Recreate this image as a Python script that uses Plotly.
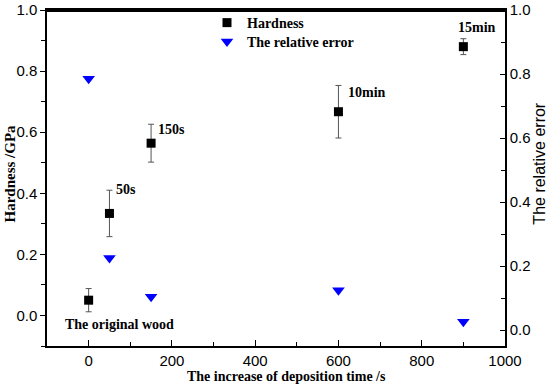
import plotly.graph_objects as go

time_s = [0, 50, 150, 600, 900]
hardness = [0.05, 0.334, 0.564, 0.667, 0.880]
hardness_err = [0.038, 0.076, 0.062, 0.086, 0.026]
rel_error = [0.785, 0.225, 0.104, 0.124, 0.026]
labels = ["The original wood", "50s", "150s", "10min", "15min"]

serif = "Liberation Serif"
sans = "Liberation Sans"

fig = go.Figure()
fig.add_trace(go.Scatter(
    x=time_s, y=hardness, mode="markers", name="<b>Hardness</b>",
    marker=dict(symbol="square", size=9, color="black"),
    error_y=dict(type="data", array=hardness_err, color="#555555", thickness=1, width=3),
    yaxis="y", legend="legend"))
fig.add_trace(go.Scatter(
    x=time_s, y=rel_error, mode="markers", name="<b>The relative error</b>",
    marker=dict(symbol="triangle-down", size=11, color="#0000ff"),
    yaxis="y2", legend="legend2"))

lab_x = [75, 60, 162, 618, 883]
lab_y = [-0.028, 0.414, 0.608, 0.731, 0.942]
anns = []
for i, t in enumerate(labels):
    anns.append(dict(x=lab_x[i], y=lab_y[i], xref="x", yref="y",
                     text="<b>" + t + "</b>", showarrow=False,
                     xanchor="center" if i == 0 else "left", yanchor="middle",
                     font=dict(family=serif, size=14, color="black")))

W, H = 550, 387
L, R, T, B = 47, 45, 7, 41
pw, ph = W - L - R, H - T - B
def px(x):
    return (x - L) / pw
def py(y):
    return (H - B - y) / ph

anns.append(dict(x=px(286), y=py(377), xref="paper", yref="paper", showarrow=False,
                 text="<b>The increase of deposition time /s</b>", xanchor="center", yanchor="middle",
                 font=dict(family=serif, size=14, color="black")))
anns.append(dict(x=px(10), y=py(172), xref="paper", yref="paper", showarrow=False,
                 text="<b>Hardness /GPa</b>", textangle=-90, xanchor="center", yanchor="middle",
                 font=dict(family=serif, size=15, color="black")))
anns.append(dict(x=px(540), y=py(162), xref="paper", yref="paper", showarrow=False,
                 text="The relative error", textangle=-90, xanchor="center", yanchor="middle",
                 font=dict(family=sans, size=16, color="black")))

leg_common = dict(xanchor="left", yanchor="top", bgcolor="rgba(0,0,0,0)",
                  font=dict(family=serif, size=14, color="black"), itemsizing="trace")

fig.update_layout(
    width=W, height=H,
    margin=dict(l=L, r=R, t=T, b=B),
    paper_bgcolor="white", plot_bgcolor="white",
    showlegend=True,
    legend=dict(x=px(207), y=py(4), **leg_common),
    legend2=dict(x=px(207), y=py(23), **leg_common),
    shapes=[dict(type="line", xref="x domain", yref="y domain", x0=0, x1=1, y0=0.997, y1=0.997,
                 line=dict(color="black", width=2), layer="above")],
    xaxis=dict(range=[-100, 1000], tickvals=[0, 200, 400, 600, 800, 1000],
               ticks="inside", ticklen=6, tickwidth=1.2, tickcolor="black",
               minor=dict(dtick=100, tick0=0, ticks="inside", ticklen=4, tickcolor="black"),
               showline=True, linecolor="black", linewidth=1.5, mirror=True,
               showgrid=False, zeroline=False, automargin=False, ticklabeloverflow="allow",
               tickfont=dict(family=sans, size=15, color="black")),
    yaxis=dict(range=[-0.1, 1.0], tickvals=[0.0, 0.2, 0.4, 0.6, 0.8, 1.0],
               ticktext=["0.0", "0.2", "0.4", "0.6", "0.8", "1.0"],
               ticks="outside", ticklen=5, tickwidth=1.2, tickcolor="black",
               minor=dict(dtick=0.1, tick0=0, ticks="outside", ticklen=4, tickcolor="black"),
               showline=True, linecolor="black", linewidth=1.5,
               showgrid=False, zeroline=False, automargin=False, ticklabeloverflow="allow",
               tickfont=dict(family=sans, size=15, color="black")),
    yaxis2=dict(range=[-0.05, 1.0], overlaying="y", side="right",
                tickvals=[0.0, 0.2, 0.4, 0.6, 0.8, 1.0],
                ticktext=["0.0", "0.2", "0.4", "0.6", "0.8", "1.0"],
                ticks="inside", ticklen=5, tickwidth=1.2, tickcolor="black",
                minor=dict(dtick=0.1, tick0=0, ticks="inside", ticklen=4, tickcolor="black"),
                showline=True, linecolor="black", linewidth=1.5,
                showgrid=False, zeroline=False, automargin=False, ticklabeloverflow="allow",
                tickfont=dict(family=sans, size=15, color="black")),
    annotations=anns,
)

fig.write_html("out.html", config={"displayModeBar": False},
               post_script="document.body.style.margin='0';document.body.style.overflow='hidden';")
